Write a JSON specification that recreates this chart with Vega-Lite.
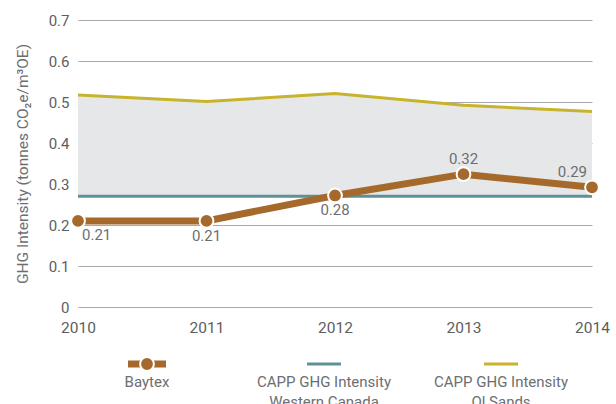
{
  "$schema": "https://vega.github.io/schema/vega-lite/v6.json",
  "padding": {"left": 15, "top": 13, "right": 5, "bottom": 0},
  "bounds": "flush",
  "spacing": 37,
  "background": "white",
  "config": {
    "view": {"stroke": null},
    "font": "Roboto",
    "axis": {
      "labelFont": "Roboto",
      "titleFont": "Roboto",
      "labelColor": "#5d5e60",
      "titleColor": "#6d6e71",
      "labelFontSize": 15,
      "titleFontSize": 15.5,
      "titleFontWeight": "normal",
      "ticks": false,
      "domain": false
    }
  },
  "datasets": {
    "intensity": [
      {"year": "2010", "baytex": 0.21, "baytexLabel": "0.21", "westernCanada": 0.27, "oilSands": 0.517},
      {"year": "2011", "baytex": 0.21, "baytexLabel": "0.21", "westernCanada": 0.27, "oilSands": 0.501},
      {"year": "2012", "baytex": 0.272, "baytexLabel": "0.28", "westernCanada": 0.27, "oilSands": 0.521},
      {"year": "2013", "baytex": 0.324, "baytexLabel": "0.32", "westernCanada": 0.27, "oilSands": 0.492},
      {"year": "2014", "baytex": 0.292, "baytexLabel": "0.29", "westernCanada": 0.27, "oilSands": 0.477}
    ],
    "series": [
      {"series": "Baytex", "label": "Baytex"},
      {"series": "CAPP GHG Intensity Western Canada", "label": "CAPP GHG Intensity\nWestern Canada"},
      {"series": "CAPP GHG Intensity Oil Sands", "label": "CAPP GHG Intensity\nOl Sands"}
    ]
  },
  "vconcat": [
    {
      "width": 514,
      "height": 287,
      "data": {"name": "intensity"},
      "encoding": {
        "x": {
          "field": "year",
          "type": "ordinal",
          "scale": {"type": "point", "padding": 0},
          "axis": {"title": null, "labelAngle": 0, "labelPadding": 13, "labelFontSize": 15.5, "grid": false}
        }
      },
      "layer": [
        {
          "mark": {"type": "area", "color": "#e6e7e8", "opacity": 1},
          "encoding": {
            "y": {
              "field": "oilSands",
              "type": "quantitative",
              "scale": {"domain": [0, 0.7], "nice": false},
              "axis": {
                "title": "GHG Intensity (tonnes CO\u2082e/m\u00b3OE)",
                "titlePadding": 18,
                "values": [0, 0.1, 0.2, 0.3, 0.4, 0.5, 0.6, 0.7],
                "labelExpr": "datum.value == 0 ? '0' : format(datum.value, '.1f')",
                "labelPadding": 9,
                "grid": true,
                "gridColor": "#a7a9ac",
                "gridWidth": 1
              }
            },
            "y2": {"field": "westernCanada"}
          }
        },
        {
          "mark": {"type": "line", "color": "#5e9197", "strokeWidth": 3},
          "encoding": {"y": {"field": "westernCanada", "type": "quantitative"}}
        },
        {
          "mark": {"type": "line", "color": "#c7b42c", "strokeWidth": 3},
          "encoding": {"y": {"field": "oilSands", "type": "quantitative"}}
        },
        {
          "mark": {"type": "line", "color": "#a5692b", "strokeWidth": 7},
          "encoding": {"y": {"field": "baytex", "type": "quantitative"}}
        },
        {
          "mark": {"type": "point", "shape": "circle", "filled": true, "color": "#a5692b", "size": 190, "stroke": "white", "strokeWidth": 2, "opacity": 1},
          "encoding": {"y": {"field": "baytex", "type": "quantitative"}}
        },
        {
          "transform": [{"filter": "datum.year == '2010'"}],
          "mark": {"type": "text", "align": "left", "baseline": "middle", "dx": 4, "dy": 14, "fontSize": 15, "color": "#6d6e71"},
          "encoding": {"y": {"field": "baytex", "type": "quantitative"}, "text": {"field": "baytexLabel"}}
        },
        {
          "transform": [{"filter": "datum.year == '2011' || datum.year == '2012'"}],
          "mark": {"type": "text", "align": "center", "baseline": "middle", "dy": 15, "fontSize": 15, "color": "#6d6e71"},
          "encoding": {"y": {"field": "baytex", "type": "quantitative"}, "text": {"field": "baytexLabel"}}
        },
        {
          "transform": [{"filter": "datum.year == '2013'"}],
          "mark": {"type": "text", "align": "center", "baseline": "middle", "dy": -15, "fontSize": 15, "color": "#6d6e71"},
          "encoding": {"y": {"field": "baytex", "type": "quantitative"}, "text": {"field": "baytexLabel"}}
        },
        {
          "transform": [{"filter": "datum.year == '2014'"}],
          "mark": {"type": "text", "align": "right", "baseline": "middle", "dx": -5, "dy": -15, "fontSize": 15, "color": "#6d6e71"},
          "encoding": {"y": {"field": "baytex", "type": "quantitative"}, "text": {"field": "baytexLabel"}}
        }
      ]
    },
    {
      "width": 514,
      "height": 40,
      "data": {"name": "series"},
      "encoding": {
        "x": {
          "field": "series",
          "type": "nominal",
          "sort": null,
          "scale": {"type": "point", "padding": 0, "range": [69, 423]},
          "axis": null
        },
        "color": {
          "field": "series",
          "type": "nominal",
          "scale": {
            "domain": ["Baytex", "CAPP GHG Intensity Western Canada", "CAPP GHG Intensity Oil Sands"],
            "range": ["#a5692b", "#5e9197", "#c7b42c"]
          },
          "legend": null
        }
      },
      "layer": [
        {
          "transform": [{"filter": "datum.series == 'Baytex'"}],
          "mark": {"type": "point", "shape": "M-1,-0.18H1V0.18H-1Z", "filled": true, "size": 1444, "opacity": 1, "strokeWidth": 0}
        },
        {
          "transform": [{"filter": "datum.series != 'Baytex'"}],
          "mark": {"type": "point", "shape": "M-1,-0.088H1V0.088H-1Z", "filled": true, "size": 1156, "opacity": 1, "strokeWidth": 0}
        },
        {
          "transform": [{"filter": "datum.series == 'Baytex'"}],
          "mark": {"type": "point", "shape": "circle", "filled": true, "size": 190, "stroke": "white", "strokeWidth": 2, "opacity": 1}
        },
        {
          "mark": {"type": "text", "align": "center", "baseline": "top", "dy": 11, "fontSize": 15, "lineHeight": 20, "lineBreak": "\n", "color": "#6d6e71"},
          "encoding": {"text": {"field": "label"}, "color": {"value": "#6d6e71"}}
        }
      ]
    }
  ]
}
